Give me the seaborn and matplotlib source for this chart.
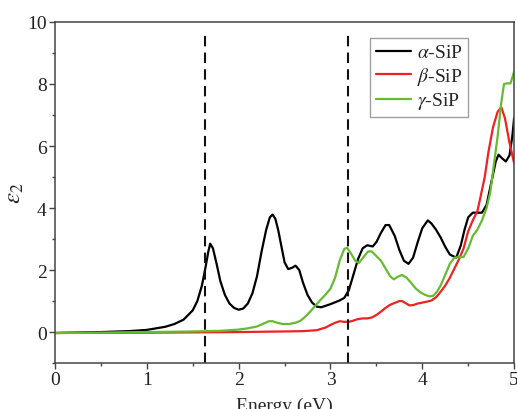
import numpy as np
import pandas as pd
import matplotlib
matplotlib.use("Agg")
import matplotlib.pyplot as plt
from matplotlib.ticker import MultipleLocator
import seaborn as sns

# Imaginary part of the dielectric function for the three SiP phases
energy_alpha = [0.0, 0.5, 0.8, 1.0, 1.2, 1.3, 1.4, 1.5, 1.55, 1.6, 1.64, 1.67, 1.69, 1.72,
                1.76, 1.8, 1.85, 1.9, 1.95, 2.0, 2.05, 2.1, 2.15, 2.2, 2.25, 2.3, 2.34, 2.37,
                2.4, 2.43, 2.46, 2.5, 2.54, 2.58, 2.62, 2.66, 2.7, 2.75, 2.8, 2.85, 2.9, 2.95, 3.0,
                3.05, 3.1, 3.15, 3.2, 3.25, 3.3, 3.35, 3.4, 3.46, 3.5, 3.55, 3.6, 3.64, 3.7,
                3.75, 3.8, 3.85, 3.9, 3.95, 4.0, 4.06, 4.1, 4.15, 4.2, 4.25, 4.3, 4.37, 4.42,
                4.46, 4.5, 4.55, 4.6, 4.65, 4.7, 4.75, 4.8, 4.83, 4.87, 4.91, 4.95, 4.98, 5.0]
eps_alpha = [-0.03, 0.0, 0.03, 0.07, 0.17, 0.26, 0.4, 0.7, 1.0, 1.5, 2.1, 2.6, 2.85, 2.7,
             2.2, 1.65, 1.2, 0.92, 0.78, 0.72, 0.76, 0.92, 1.25, 1.8, 2.6, 3.3, 3.7, 3.79,
             3.65, 3.3, 2.85, 2.25, 2.03, 2.07, 2.14, 2.0, 1.6, 1.2, 0.95, 0.82, 0.8, 0.85, 0.9,
             0.96, 1.02, 1.1, 1.35, 1.85, 2.35, 2.7, 2.8, 2.76, 2.9, 3.2, 3.45, 3.45, 3.1,
             2.65, 2.3, 2.2, 2.4, 2.9, 3.35, 3.6, 3.5, 3.3, 3.05, 2.75, 2.5, 2.4, 2.8,
             3.3, 3.7, 3.85, 3.85, 3.85, 4.1, 4.8, 5.5, 5.72, 5.6, 5.5, 5.7, 6.3, 6.9]

energy_beta = [0.0, 1.0, 2.0, 2.5, 2.7, 2.85, 2.95, 3.0, 3.05, 3.1, 3.15, 3.2, 3.25, 3.3,
               3.35, 3.4, 3.45, 3.5, 3.55, 3.6, 3.65, 3.7, 3.75, 3.78, 3.82, 3.86, 3.9, 3.95,
               4.0, 4.05, 4.1, 4.15, 4.2, 4.25, 4.3, 4.35, 4.4, 4.45, 4.5, 4.55, 4.6, 4.63,
               4.68, 4.72, 4.77, 4.82, 4.86, 4.9, 4.95, 5.0]
eps_beta = [-0.03, -0.02, 0.0, 0.02, 0.03, 0.06, 0.15, 0.23, 0.3, 0.35, 0.33, 0.33, 0.37, 0.42,
            0.44, 0.44, 0.47, 0.55, 0.66, 0.78, 0.88, 0.94, 1.0, 1.0, 0.93, 0.86, 0.87, 0.92,
            0.95, 0.98, 1.02, 1.12, 1.3, 1.5, 1.75, 2.05, 2.35, 2.7, 3.25, 3.6, 3.9, 4.3,
            5.0, 5.8, 6.6, 7.1, 7.25, 6.9, 6.1, 5.45]

energy_gamma = [0.0, 0.5, 1.0, 1.5, 1.8, 2.0, 2.1, 2.2, 2.27, 2.33, 2.37, 2.42, 2.48, 2.55,
                2.62, 2.67, 2.72, 2.78, 2.82, 2.88, 2.95, 3.0, 3.05, 3.1, 3.15, 3.18, 3.22,
                3.27, 3.31, 3.36, 3.41, 3.45, 3.5, 3.55, 3.6, 3.65, 3.69, 3.73, 3.78, 3.83,
                3.88, 3.93, 3.98, 4.03, 4.08, 4.12, 4.16, 4.2, 4.25, 4.3, 4.35, 4.4, 4.45,
                4.5, 4.55, 4.6, 4.65, 4.7, 4.74, 4.78, 4.82, 4.86, 4.89, 4.92, 4.96, 4.98, 5.0]
eps_gamma = [-0.03, -0.02, 0.0, 0.02, 0.04, 0.08, 0.12, 0.18, 0.27, 0.35, 0.35, 0.3, 0.26, 0.26,
             0.3, 0.36, 0.48, 0.66, 0.8, 1.0, 1.22, 1.4, 1.75, 2.3, 2.68, 2.72, 2.55,
             2.3, 2.23, 2.42, 2.6, 2.6, 2.45, 2.3, 2.05, 1.8, 1.7, 1.78, 1.84, 1.75,
             1.58, 1.4, 1.28, 1.2, 1.15, 1.17, 1.3, 1.5, 1.85, 2.2, 2.4, 2.42, 2.42,
             2.7, 3.1, 3.3, 3.6, 4.0, 4.5, 5.4, 6.3, 7.4, 8.0, 8.02, 8.02, 8.2, 8.4]

labels = [r"$\alpha$-SiP", r"$\beta$-SiP", r"$\gamma$-SiP"]
colors = ["#000000", "#ee2222", "#66bb33"]
gap_energies = [1.634, 3.195]

frames = []
for lab, e, v in zip(labels, [energy_alpha, energy_beta, energy_gamma],
                     [eps_alpha, eps_beta, eps_gamma]):
    frames.append(pd.DataFrame({"energy": e, "eps2": v, "phase": lab}))
df = pd.concat(frames, ignore_index=True)

sns.set_theme(style="ticks")
plt.rcParams["font.family"] = ["Liberation Serif", "DejaVu Serif"]
plt.rcParams["mathtext.fontset"] = "stix"
plt.rcParams["axes.edgecolor"] = "#444444"
plt.rcParams["xtick.color"] = "#444444"
plt.rcParams["ytick.color"] = "#444444"
plt.rcParams["xtick.labelcolor"] = "#222222"
plt.rcParams["ytick.labelcolor"] = "#222222"
plt.rcParams["lines.solid_joinstyle"] = "round"

fig = plt.figure(figsize=(5.17, 4.10), dpi=100)
ax = fig.add_axes([0.1064, 0.112, 0.888, 0.832])

sns.lineplot(data=df, x="energy", y="eps2", hue="phase", hue_order=labels,
             palette=colors, linewidth=1.6, sort=False, estimator=None, ax=ax)

for g in gap_energies:
    ax.axvline(g, ymin=0, ymax=0.974, color="#111111", linestyle=(0, (5, 3)), linewidth=1.5)

ax.set_xlim(0, 5)
ax.set_ylim(-1, 10)
ax.xaxis.set_major_locator(MultipleLocator(1))
ax.xaxis.set_minor_locator(MultipleLocator(0.5))
ax.yaxis.set_major_locator(MultipleLocator(2))
ax.yaxis.set_minor_locator(MultipleLocator(1))
ax.tick_params(which="major", direction="out", length=4, width=1, labelsize=14, pad=2)
ax.tick_params(which="minor", direction="out", length=2.5, width=1)
for s in ax.spines.values():
    s.set_linewidth(1.1)

ax.set_xlabel("Energy (eV)", fontsize=14, labelpad=6)
ax.set_ylabel(r"$\varepsilon_2$", fontsize=18, labelpad=1)

leg = ax.legend(loc="upper left", bbox_to_anchor=(0.686, 0.953), borderaxespad=0,
                fontsize=14, frameon=True, fancybox=False, labelspacing=0.18,
                handlelength=1.8, handletextpad=0.3, borderpad=0.3)
leg.get_frame().set_edgecolor("#888888")
leg.get_frame().set_linewidth(1.0)
for line in leg.get_lines():
    line.set_linewidth(1.6)

fig.savefig("out.png", dpi=100)
